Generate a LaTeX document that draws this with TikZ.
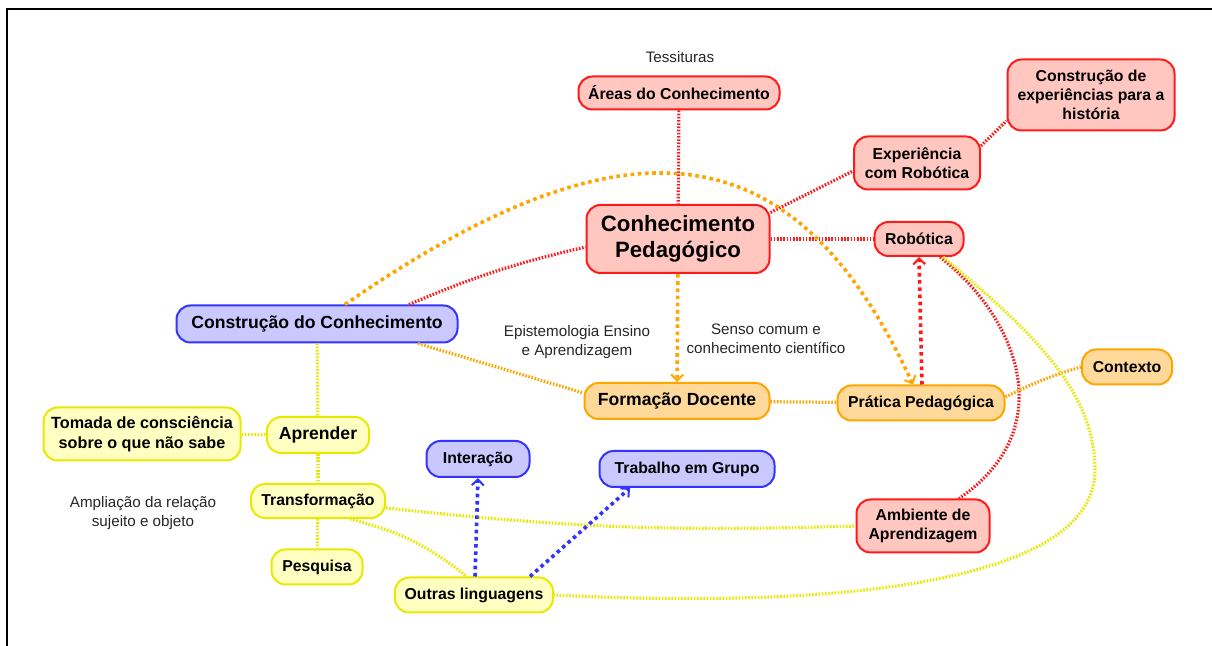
\documentclass[tikz,border=0pt]{standalone}
\usepackage{fontspec}
\setmainfont{Liberation Sans}
\usetikzlibrary{arrows.meta,positioning}

\definecolor{redfill}{HTML}{FFC7C0}
\definecolor{redline}{HTML}{FF1A1A}
\definecolor{orangefill}{HTML}{FFD999}
\definecolor{orangeline}{HTML}{FFA500}
\definecolor{yellowfill}{HTML}{FFFFC2}
\definecolor{yellowline}{HTML}{E8E800}
\definecolor{bluefill}{HTML}{C9C9FF}
\definecolor{blueline}{HTML}{3333FF}

\tikzset{
  box/.style={draw, line width=1pt, rounded corners=7pt, align=center, inner sep=1pt,
    font=\bfseries\fontsize{7.9}{9.6}\selectfont},
  bigbox/.style={box, font=\bfseries\fontsize{8.8}{10.5}\selectfont},
  redbox/.style={box, draw=redline, fill=redfill},
  orangebox/.style={box, draw=orangeline, fill=orangefill},
  yellowbox/.style={box, draw=yellowline, fill=yellowfill},
  bluebox/.style={box, draw=blueline, fill=bluefill},
  plain/.style={align=center, text=black!85, font=\fontsize{7.6}{9.5}\selectfont},
  finedot/.style={line width=1.6pt, dash pattern=on 0.8pt off 0.8pt},
  coarsedot/.style={line width=1.8pt, dash pattern=on 1.8pt off 1.8pt},
  tip/.style={-{Straight Barb[length=3pt,width=6pt,line width=1pt]}}
}

\begin{document}
\begin{tikzpicture}[x=0.5pt,y=-0.5pt]
  \useasboundingbox (0,0) rectangle (1212,646);
  % frame
  \draw[line width=1pt] (7,646) -- (7,9) -- (1212,9);

  % Conhecimento Pedagogico and red branch
  \node[plain] (tess) at (680,57) {Tessituras};
  \node[redbox, minimum width=100.5pt, minimum height=16.5pt] (areas) at (679,93) {Áreas do Conhecimento};
  \node[redbox, minimum width=83.5pt, minimum height=35.5pt] (constexp) at (1091,95) {Construção de\\experiências para a\\história};
  \node[redbox, minimum width=63pt, minimum height=26.5pt] (exprob) at (917,163) {Experiência\\com Robótica};
  \node[redbox, minimum width=91.5pt, minimum height=34pt,
    font=\bfseries\fontsize{11.1}{13}\selectfont] (conhped) at (678,239) {Conhecimento\\Pedagógico};
  \node[redbox, minimum width=44.5pt, minimum height=17pt] (robotica) at (919,239) {Robótica};
  \node[redbox, minimum width=66.5pt, minimum height=26.5pt] (ambiente) at (923,526) {Ambiente de\\Aprendizagem};

  % Formacao and orange branch
  \node[plain] (epist) at (577,342) {Epistemologia Ensino\\e Aprendizagem};
  \node[plain] (senso) at (766,339) {Senso comum e\\conhecimento científico};
  \node[orangebox, bigbox, draw=orangeline, fill=orangefill, minimum width=92.5pt, minimum height=18pt] (formacao) at (677,401) {Formação Docente};
  \node[orangebox, minimum width=83.5pt, minimum height=17.5pt] (pratica) at (921,403) {Prática Pedagógica};
  \node[orangebox, minimum width=45pt, minimum height=17.5pt] (contexto) at (1127,367) {Contexto};

  % Construcao do Conhecimento and yellow branch
  \node[bluebox, bigbox, draw=blueline, fill=bluefill, minimum width=140.5pt, minimum height=18.5pt] (constcon) at (317,324) {Construção do Conhecimento};
  \node[yellowbox, minimum width=98.5pt, minimum height=26.5pt,
    font=\bfseries\fontsize{8.1}{10}\selectfont] (tomada) at (142,434) {Tomada de consciência\\sobre o que não sabe};
  \node[yellowbox, bigbox, draw=yellowline, fill=yellowfill, minimum width=51pt, minimum height=18pt] (aprender) at (318,435) {Aprender};
  \node[yellowbox, minimum width=67pt, minimum height=17pt] (transf) at (318,501) {Transformação};
  \node[plain] (ampl) at (143,513) {Ampliação da relação\\sujeito e objeto};
  \node[yellowbox, minimum width=45.5pt, minimum height=17.5pt] (pesquisa) at (317,567) {Pesquisa};
  \node[yellowbox, minimum width=79pt, minimum height=17.5pt] (outras) at (474,595) {Outras linguagens};
  \node[bluebox, minimum width=51.5pt, minimum height=18pt] (interacao) at (478,459) {Interação};
  \node[bluebox, minimum width=87.5pt, minimum height=18pt] (trabalho) at (687,469) {Trabalho em Grupo};

  % red connectors
  \draw[redline, finedot] (areas) -- (conhped);
  \draw[redline, finedot] (conhped.16) -- ([yshift=-4pt]exprob.west);
  \draw[redline, finedot] (exprob.15) -- (constexp.197);
  \draw[redline, finedot] (conhped) -- (robotica);
  \draw[redline, finedot] ([xshift=46pt]constcon.north) to[bend left=5] ([yshift=-4pt]conhped.west);
  \draw[redline, coarsedot, tip] ([xshift=0.5pt]pratica.north) -- (robotica.south);
  \draw[redline, finedot] ([xshift=10.5pt]robotica.south) .. controls (1020,320) and (1060,430) .. ([xshift=18pt]ambiente.north);

  % orange connectors
  \draw[orangeline, coarsedot, tip] (conhped) -- (formacao);
  \draw[orangeline, coarsedot, tip] ([xshift=14pt]constcon.north) .. controls (640,100) and (800,140) .. ([xshift=-4pt]pratica.north);
  \draw[orangeline, finedot] ([xshift=50.5pt]constcon.south) -- ([yshift=4pt]formacao.west);
  \draw[orangeline, finedot] (formacao) -- (pratica);
  \draw[orangeline, finedot] ([yshift=3pt]pratica.east) to[bend left=5] (contexto.west);

  % yellow connectors
  \draw[yellowline, finedot] (constcon) -- (aprender);
  \draw[yellowline, finedot] (tomada) -- (aprender);
  \draw[yellowline, finedot] (aprender) -- (transf);
  \draw[yellowline, finedot] (transf) -- (pesquisa);
  \draw[yellowline, finedot] ([yshift=-3.5pt]transf.east) to[bend right=4] (ambiente.west);
  \draw[yellowline, finedot] ([xshift=16pt]transf.south) to[bend left=12] ([xshift=-3.5pt]outras.north);
  \draw[yellowline, finedot] ([xshift=12pt]robotica.south) .. controls (1030,330) and (1095,390) .. (1095,470)
    .. controls (1095,580) and (850,610) .. (outras.east);

  % blue connectors
  \draw[blueline, coarsedot, tip] ([xshift=0.5pt]outras.north) -- (interacao.south);
  \draw[blueline, coarsedot, tip] ([xshift=28pt]outras.north) -- ([xshift=-28.5pt]trabalho.south);
\end{tikzpicture}
\end{document}
